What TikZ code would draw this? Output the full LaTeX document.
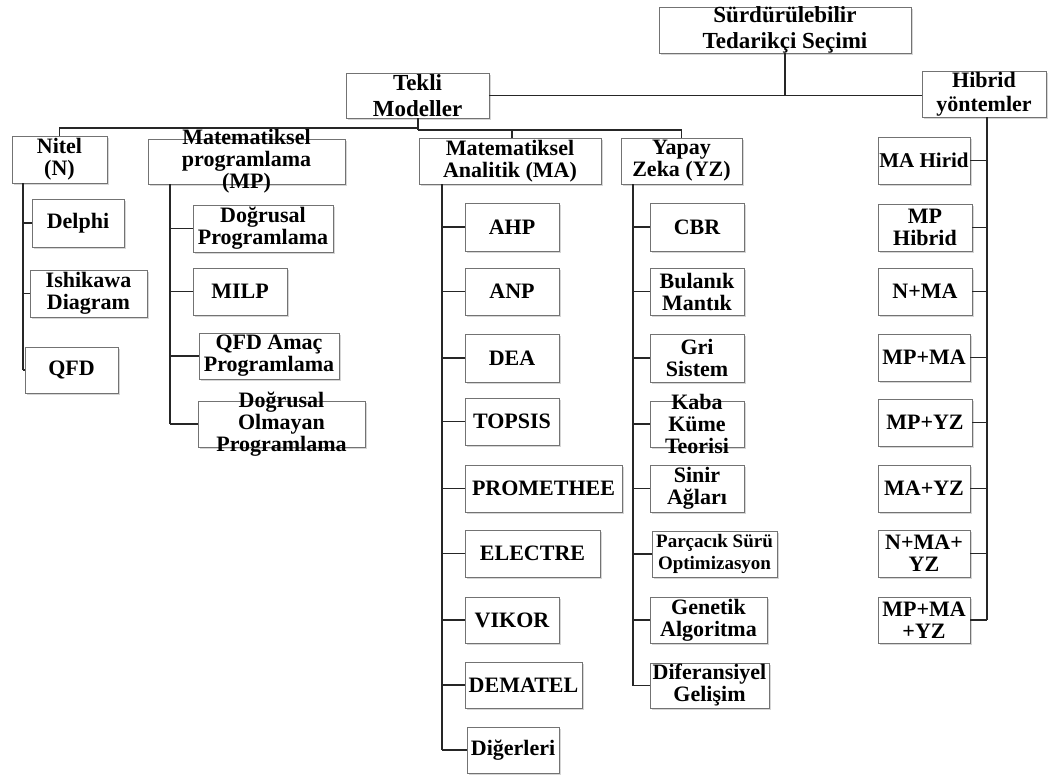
\documentclass[tikz,border=0pt]{standalone}
\usepackage{fontspec}
\setmainfont{Liberation Serif}
\usetikzlibrary{shadows}

\tikzset{
  box/.style={draw=black!55, line width=0.9pt, fill=white, inner sep=0pt,
    drop shadow={shadow xshift=1.8pt, shadow yshift=-2.2pt, opacity=0.35, fill=black!45}},
  lbl/.style={align=center, font=\fontsize{22}{22}\selectfont\bfseries, inner sep=0pt},
  bigl/.style={lbl, font=\fontsize{23}{25.5}\selectfont\bfseries},
  wire/.style={line width=1.6pt, black!85},
}

% \bx{name}{x1}{y1}{x2}{y2}{text}: a framed box given by its corners, text centred on it
\newcommand\bx[6]{%
  \node[box, minimum width={(#4-#2)*1pt}, minimum height={(#5-#3)*1pt}]
    (#1) at ({(#2+#4)/2},{(#3+#5)/2}) {};
  \node[lbl] (#1-t) at (#1) {#6};}

\begin{document}
\begin{tikzpicture}[x=1pt,y=-1pt]
\fill[white] (0,0) rectangle (1048,776);
\useasboundingbox (0,0) rectangle (1048,776);

% upper levels
\bx{root}{659}{7}{911}{53}{}
\bx{tk}{346}{73}{489}{118}{}
\bx{hb}{922}{71}{1046}{117}{}
\node[bigl] (root-t) at (root) {Sürdürülebilir\\Tedarikçi Seçimi};
\node[bigl] (tk-t) at (tk) {Tekli\\Modeller};
\node[bigl, font=\fontsize{22}{23.5}\selectfont\bfseries] (hb-t) at (hb) {Hibrid\\yöntemler};

\bx{nt}{12}{136}{107}{183}{Nitel\\(N)}
\bx{mp}{148}{139}{345}{184}{}
\bx{ma}{419}{138}{601}{184}{Matematiksel\\Analitik (MA)}
\bx{yz}{621}{138}{742}{184}{Yapay\\Zeka (YZ)}

% qualitative methods
\bx{n1}{32}{199}{124}{247}{Delphi}
\bx{n2}{30}{270}{147}{317}{Ishikawa\\Diagram}
\bx{n3}{25}{347}{118}{393}{QFD}

% mathematical programming
\bx{p1}{193}{205}{333}{252}{Doğrusal\\Programlama}
\bx{p2}{193}{268}{287}{315}{MILP}
\bx{p3}{199}{333}{339}{379}{QFD Amaç\\Programlama}
\bx{p4}{198}{401}{365}{447}{}

% analytical methods
\bx{a1}{465}{203}{559}{251}{AHP}
\bx{a2}{465}{268}{559}{315}{ANP}
\bx{a3}{465}{334}{559}{382}{DEA}
\bx{a4}{465}{398}{559}{445}{TOPSIS}
\bx{a5}{465}{465}{622}{512}{PROMETHEE}
\bx{a6}{465}{530}{600}{577}{ELECTRE}
\bx{a7}{465}{597}{559}{643}{VIKOR}
\bx{a8}{465}{662}{582}{708}{DEMATEL}
\bx{a9}{467}{727}{559}{773}{Diğerleri}

% artificial intelligence
\bx{y1}{650}{203}{744}{251}{CBR}
\bx{y2}{650}{268}{744}{315}{Bulanık\\Mantık}
\bx{y3}{650}{334}{744}{382}{Gri\\Sistem}
\bx{y4}{650}{401}{744}{447}{}
\bx{y5}{650}{465}{744}{512}{Sinir\\Ağları}
\bx{y6}{652}{531}{777}{577}{\fontsize{19}{19}\selectfont Parçacık Sürü\\\fontsize{19}{19}\selectfont Optimizasyon}
\bx{y7}{650}{597}{767}{643}{Genetik\\Algoritma}
\bx{y8}{650}{663}{769}{708}{Diferansiyel\\Gelişim}

% hybrid methods
\bx{h1}{878}{137}{970}{184}{\fontsize{21}{21}\selectfont MA Hirid}
\bx{h2}{878}{204}{972}{251}{MP\\Hibrid}
\bx{h3}{878}{268}{972}{315}{N+MA}
\bx{h4}{878}{334}{970}{381}{MP+MA}
\bx{h5}{878}{399}{972}{446}{MP+YZ}
\bx{h6}{878}{465}{970}{512}{MA+YZ}
\bx{h7}{878}{530}{970}{577}{N+MA+\\YZ}
\bx{h8}{878}{597}{970}{643}{MP+MA\\+YZ}

% three-line labels that run past their frames
\node[lbl] (mp-t) at (mp) {Matematiksel\\programlama\\(MP)};
\node[lbl] (p4-t) at (p4) {Doğrusal\\Olmayan\\Programlama};
\node[lbl] (y4-t) at (y4) {Kaba\\Küme\\Teorisi};

% tree connectors
\coordinate (tkbus) at (418,128);
\coordinate (rbus) at (418,130);
\draw[wire] (root.south) -- (root.south |- tk.east);
\draw[wire] (tk.east) -- (tk.east -| hb.west);
\draw[wire] (tk.south -| tkbus) -- (rbus);
\draw[wire] (tkbus) -- (tkbus -| nt.north) -- (nt.north);
\draw[wire] (rbus) -- (rbus -| yz.north) -- (yz.north);
\draw[wire] (rbus -| 512,0) -- (512,138);

% column spines
\coordinate (ntv) at (23,183);
\coordinate (mpv) at (170,184);
\coordinate (mav) at (442,184);
\coordinate (yzv) at (633,184);
\coordinate (hbv) at (987,117);
\draw[wire] (ntv) -- (ntv |- n3.west);
\draw[wire] (mpv) -- (mpv |- p4.west);
\draw[wire] (mav) -- (mav |- a9.west);
\draw[wire] (yzv) -- (yzv |- y8.west);
\draw[wire, line width=2.4pt] (hbv) -- (hbv |- h8.east);

\foreach \c in {n1,n2,n3} \draw[wire] (\c.west) -- (\c.west -| ntv);
\foreach \c in {p1,p2,p3,p4} \draw[wire] (\c.west) -- (\c.west -| mpv);
\foreach \c in {a1,a2,a3,a4,a5,a6,a7,a8,a9} \draw[wire] (\c.west) -- (\c.west -| mav);
\foreach \c in {y1,y2,y3,y4,y5,y6,y7,y8} \draw[wire] (\c.west) -- (\c.west -| yzv);
\foreach \c in {h1,h2,h3,h4,h5,h6,h7,h8} \draw[wire] (\c.east) -- (\c.east -| hbv);
\end{tikzpicture}
\end{document}
